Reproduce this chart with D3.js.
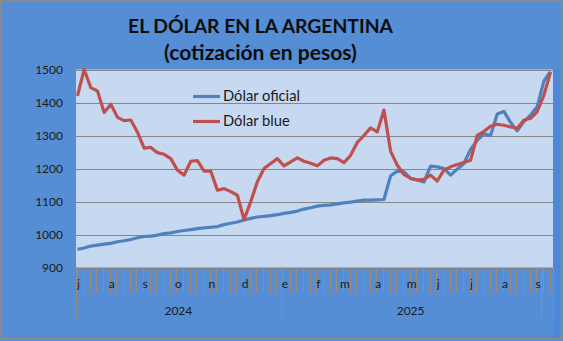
<!DOCTYPE html>
<html><head><meta charset="utf-8">
<script src="https://cdn.jsdelivr.net/npm/d3@7"></script>
<style>body{margin:0;background:#fff}svg{display:block}</style>
</head><body>
<script>
// ---- data ----
const weeks = d3.range(72); // weekly categories, first week of July 2024 onward
const monthLabels = ["j","a","s","o","n","d","e","f","m","a","m","j","j","a","s"];
const monthStartWeek = [0,5,10,15,20,25,31,36,40,45,50,54,59,64,69];
const yearLabels = ["2024","2025",""];
const yearStartWeek = [0,31,70];
const yTicks = [900,1000,1100,1200,1300,1400,1500];
const seriesNames = ["Dólar oficial","Dólar blue"];
const oficial = [955,959,965,968,971,973,978,981,985,990,994,995,998,1003,1005,1009,1012,1015,1018,1020,1022,1024,1030,1034,1038,1044,1049,1053,1055,1057,1060,1064,1067,1071,1077,1081,1086,1088,1090,1093,1096,1098,1101,1104,1104,1105,1106,1178,1192,1190,1170,1165,1159,1207,1205,1200,1180,1198,1215,1258,1285,1305,1300,1365,1373,1340,1314,1342,1362,1387,1465,1493];
const blue = [1420,1500,1445,1435,1370,1395,1355,1345,1347,1310,1262,1264,1248,1243,1230,1195,1180,1222,1224,1192,1192,1134,1139,1130,1119,1045,1099,1160,1200,1215,1230,1208,1220,1232,1222,1216,1208,1225,1232,1230,1218,1240,1279,1300,1323,1311,1377,1252,1210,1182,1170,1165,1167,1180,1162,1195,1205,1212,1218,1225,1300,1312,1328,1334,1331,1326,1322,1346,1352,1372,1422,1492];

// ---- layout ----
const W = 563, H = 341;
const plot = {l:76, r:553, t:69.5, b:267.5};
const font = "Lato, 'Open Sans', sans-serif";
const svg = d3.select("body").append("svg").attr("width",W).attr("height",H);

svg.append("rect").attr("x",0).attr("y",0).attr("width",W).attr("height",H).attr("fill","#558ED5");
svg.append("rect").attr("x",plot.r).attr("y",plot.t).attr("width",7).attr("height",H-plot.t-3).attr("fill","#4C87D8");
svg.append("rect").attr("x",plot.l).attr("y",plot.t).attr("width",plot.r-plot.l).attr("height",plot.b-plot.t).attr("fill","#C6D9F1");
svg.append("rect").attr("x",1).attr("y",1).attr("width",W-2).attr("height",H-3).attr("fill","none").attr("stroke","#8a8a8a").attr("stroke-width",2);

const x = d3.scalePoint().domain(weeks).range([77.5, 550.5]);
const step = x.step();
const y = d3.scaleLinear().domain([900,1500]).range([plot.b, plot.t]);

// title
function fitText(sel, target){
  const w = sel.node().getComputedTextLength();
  const fs = parseFloat(sel.attr("font-size"));
  sel.attr("font-size", fs*target/w);
  return fs*target/w;
}
const t1 = svg.append("text").attr("x",260.5).attr("y",33).attr("text-anchor","middle")
  .attr("font-family",font).attr("font-weight","bold").attr("font-size",20).attr("fill","#0d0d0d")
  .text("EL DÓLAR EN LA ARGENTINA");
fitText(t1, 265);
const t2 = svg.append("text").attr("x",260.5).attr("y",60).attr("text-anchor","middle")
  .attr("font-family",font).attr("font-weight","bold").attr("font-size",20).attr("fill","#0d0d0d")
  .text("(cotización en pesos)");
fitText(t2, 193);

// gridlines
svg.append("g").selectAll("line").data(yTicks).join("line")
  .attr("x1",plot.l).attr("x2",plot.r)
  .attr("y1",d=>Math.round(y(d))+0.5).attr("y2",d=>Math.round(y(d))+0.5)
  .attr("stroke","#868686").attr("stroke-width",1);

// y axis labels
const yAxis = d3.axisLeft(y).tickValues(yTicks).tickSize(0).tickPadding(0).tickFormat(d3.format("d"));
const gy = svg.append("g").attr("transform",`translate(63,0)`).call(yAxis);
gy.select(".domain").remove();
gy.selectAll("text").attr("font-family",font).attr("font-size",12).attr("fill","#1a1a1a");

// x axis ticks (category boundaries)
const tickCol = "#9a8c78";
svg.append("g").selectAll("line").data(weeks).join("line")
  .attr("x1",d=>Math.round(x(d)-1)+0.5).attr("x2",d=>Math.round(x(d)-1)+0.5)
  .attr("y1",plot.b).attr("y2",293)
  .attr("stroke",tickCol).attr("stroke-width",1);
// year separators
const sepX = yearStartWeek.map(i => Math.max(plot.l, x(i) - step/2)).concat([plot.r]);
svg.append("g").selectAll("line").data(sepX).join("line")
  .attr("x1",d=>Math.round(d)+0.5).attr("x2",d=>Math.round(d)+0.5)
  .attr("y1",plot.b).attr("y2",318)
  .attr("stroke",tickCol).attr("stroke-width",1);

// month labels
svg.append("g").selectAll("text").data(monthLabels).join("text")
  .attr("x",(d,i)=>x(monthStartWeek[i])+1).attr("y",288).attr("text-anchor","middle")
  .attr("font-family",font).attr("font-size",12).attr("fill","#1a1a1a").text(d=>d);
// year labels
svg.append("g").selectAll("text").data(yearLabels).join("text")
  .attr("x",(d,i)=>(sepX[i]+sepX[i+1])/2).attr("y",315).attr("text-anchor","middle")
  .attr("font-family",font).attr("font-size",12).attr("fill","#1a1a1a").text(d=>d);

// lines
const colors = ["#4F81BD","#C0504D"];
const line = d3.line().x((d,i)=>x(weeks[i])).y(d=>y(d));
[oficial, blue].forEach((s,k)=>{
  svg.append("path").datum(s).attr("d",line).attr("fill","none")
    .attr("stroke",colors[k]).attr("stroke-width",3.2).attr("stroke-linejoin","round");
});

// legend
const lg = svg.append("g");
let legendSize = 14;
seriesNames.forEach((n,k)=>{
  const ly = 96.5 + k*25;
  lg.append("line").attr("x1",193).attr("x2",220).attr("y1",ly).attr("y2",ly)
    .attr("stroke",colors[k]).attr("stroke-width",3.2);
  const tx = lg.append("text").attr("x",223).attr("y",ly+4.5).attr("font-family",font).attr("font-size",legendSize)
    .attr("fill","#1a1a1a").text(n);
  if (k===0) legendSize = fitText(tx, 77);
});
</script>
</body></html>
